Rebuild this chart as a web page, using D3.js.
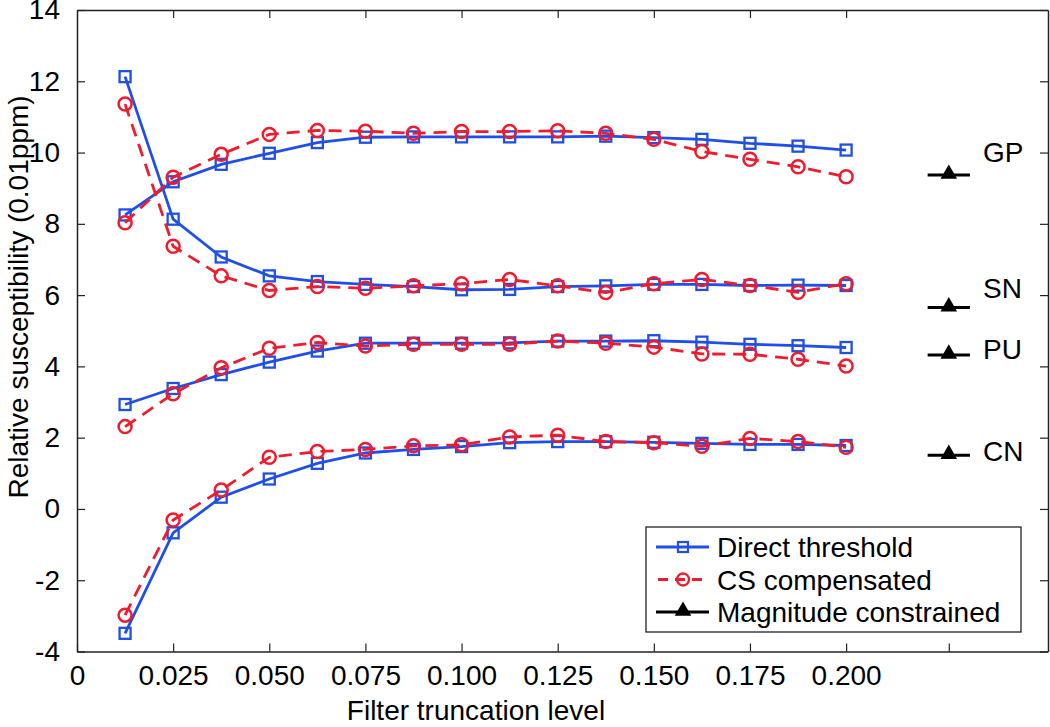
<!DOCTYPE html>
<html lang="en">
<head>
<meta charset="utf-8">
<title>Relative susceptibility vs filter truncation</title>
<script src="https://d3js.org/d3.v7.min.js"></script>
<style>
  body { margin: 0; background: #fff; }
  text { font-family: "Liberation Sans", Arial, Helvetica, sans-serif; fill: #000; }
</style>
</head>
<body>
<script>
// filter truncation levels (x)
var levels = [0.0125, 0.025, 0.0375, 0.05, 0.0625, 0.075, 0.0875, 0.1, 0.1125, 0.125, 0.1375, 0.15, 0.1625, 0.175, 0.1875, 0.2];

// direct threshold (blue squares)
var gpDirect = [8.25, 9.18, 9.67, 9.98, 10.28, 10.43, 10.44, 10.44, 10.44, 10.44, 10.46, 10.42, 10.37, 10.26, 10.18, 10.07];
var snDirect = [12.13, 8.13, 7.07, 6.54, 6.38, 6.3, 6.24, 6.15, 6.16, 6.24, 6.26, 6.3, 6.3, 6.27, 6.28, 6.27];
var puDirect = [2.93, 3.38, 3.77, 4.12, 4.43, 4.65, 4.65, 4.65, 4.66, 4.71, 4.71, 4.72, 4.68, 4.62, 4.58, 4.53];
var cnDirect = [-3.49, -0.67, 0.33, 0.84, 1.28, 1.57, 1.67, 1.75, 1.86, 1.89, 1.89, 1.87, 1.84, 1.81, 1.81, 1.78];

// CS compensated (red circles, dashed)
var gpCS = [8.03, 9.31, 9.95, 10.51, 10.62, 10.6, 10.54, 10.59, 10.59, 10.61, 10.54, 10.37, 10.03, 9.81, 9.6, 9.32];
var snCS = [11.36, 7.37, 6.54, 6.13, 6.24, 6.19, 6.26, 6.32, 6.44, 6.26, 6.07, 6.32, 6.44, 6.27, 6.08, 6.32];
var puCS = [2.31, 3.23, 3.96, 4.51, 4.67, 4.57, 4.62, 4.62, 4.62, 4.71, 4.65, 4.54, 4.35, 4.34, 4.2, 4.01];
var cnCS = [-2.98, -0.31, 0.53, 1.45, 1.61, 1.67, 1.77, 1.8, 2.02, 2.07, 1.89, 1.86, 1.76, 1.98, 1.89, 1.73];

// magnitude constrained (one value per region, shown at the extra tick)
var regions = ["GP", "SN", "PU", "CN"];
var magValues = [9.37, 5.65, 4.32, 1.51];
var magLevel = 0.2267;
var magHalfSpan = 0.0055;

var xTicks = [0, 0.025, 0.05, 0.075, 0.1, 0.125, 0.15, 0.175, 0.2, 0.2267];
var xTickLabels = ["0", "0.025", "0.050", "0.075", "0.100", "0.125", "0.150", "0.175", "0.200", ""];
var yTicks = [-4, -2, 0, 2, 4, 6, 8, 10, 12, 14];

var legendNames = ["Direct threshold", "CS compensated", "Magnitude constrained"];

var width = 1050, height = 727;
var plotLeft = 77, plotRight = 1048, plotTop = 10, plotBottom = 651.5;
var blue = "#1f4fe8", red = "#ee1c2e";

var x = d3.scaleLinear().domain([0, 0.2525]).range([plotLeft, plotRight]);
var y = d3.scaleLinear().domain([-4, 14]).range([plotBottom, plotTop]);

var svg = d3.select("body").append("svg")
    .attr("width", width)
    .attr("height", height);

svg.append("rect").attr("width", width).attr("height", height).attr("fill", "#fff");

// axes, ticks pointing inward on all four sides
function styleAxis(g) {
  g.select(".domain").attr("stroke", "#222").attr("stroke-width", 1.5);
  g.selectAll(".tick line").attr("stroke", "#222").attr("stroke-width", 1.2);
  g.selectAll(".tick text").attr("font-size", 28).attr("fill", "#000")
    .attr("font-family", '"Liberation Sans", Arial, sans-serif');
}

svg.append("g")
    .attr("transform", "translate(0," + plotBottom + ")")
    .call(d3.axisBottom(x).tickValues(xTicks).tickSizeInner(-8).tickSizeOuter(0).tickPadding(14)
      .tickFormat(function(d, i) { return xTickLabels[i]; }))
    .call(styleAxis);

svg.append("g")
    .attr("transform", "translate(0," + plotTop + ")")
    .call(d3.axisTop(x).tickValues(xTicks.slice(1, 9)).tickSizeInner(-8).tickSizeOuter(0).tickFormat(""))
    .call(styleAxis);

svg.append("g")
    .attr("transform", "translate(" + plotLeft + ",0)")
    .call(d3.axisLeft(y).tickValues(yTicks).tickSizeInner(-8).tickSizeOuter(0).tickPadding(17)
      .tickFormat(function(d) { return String(d); }))
    .call(styleAxis);

svg.append("g")
    .attr("transform", "translate(" + plotRight + ",0)")
    .call(d3.axisRight(y).tickValues(yTicks).tickSizeInner(-8).tickSizeOuter(0).tickFormat(""))
    .call(styleAxis);

// axis titles
svg.append("text")
    .attr("x", 476).attr("y", 720)
    .attr("text-anchor", "middle")
    .attr("font-size", 28)
    .text("Filter truncation level");

svg.append("text")
    .attr("transform", "translate(28,297) rotate(-90)")
    .attr("text-anchor", "middle")
    .attr("font-size", 28)
    .text("Relative susceptibility (0.01ppm)");

var line = d3.line()
    .x(function(d, i) { return x(levels[i]); })
    .y(function(d) { return y(d); });

function drawDirect(values) {
  svg.append("path").datum(values)
      .attr("d", line)
      .attr("fill", "none")
      .attr("stroke", blue)
      .attr("stroke-width", 2.8);
  svg.append("g").selectAll("rect").data(values).enter().append("rect")
      .attr("x", function(d, i) { return x(levels[i]) - 5.5; })
      .attr("y", function(d) { return y(d) - 5.5; })
      .attr("width", 11).attr("height", 11)
      .attr("fill", "none")
      .attr("stroke", blue)
      .attr("stroke-width", 2.3);
}

function drawCS(values) {
  svg.append("path").datum(values)
      .attr("d", line)
      .attr("fill", "none")
      .attr("stroke", red)
      .attr("stroke-width", 2.8)
      .attr("stroke-dasharray", "13,8");
  svg.append("g").selectAll("circle").data(values).enter().append("circle")
      .attr("cx", function(d, i) { return x(levels[i]); })
      .attr("cy", function(d) { return y(d); })
      .attr("r", 6.5)
      .attr("fill", "none")
      .attr("stroke", red)
      .attr("stroke-width", 2.5);
}

[gpDirect, snDirect, puDirect, cnDirect].forEach(drawDirect);
[gpCS, snCS, puCS, cnCS].forEach(drawCS);

// magnitude constrained markers
var tri = d3.symbol().type(d3.symbolTriangle).size(120);
var labelDy = [-23, -20, -6, -4];

regions.forEach(function(name, i) {
  var cy = y(magValues[i]);
  svg.append("line")
      .attr("x1", x(magLevel - magHalfSpan)).attr("x2", x(magLevel + magHalfSpan))
      .attr("y1", cy).attr("y2", cy)
      .attr("stroke", "#000").attr("stroke-width", 3);
  svg.append("path")
      .attr("d", tri)
      .attr("transform", "translate(" + x(magLevel) + "," + (cy - 1) + ")")
      .attr("fill", "#000");
  svg.append("text")
      .attr("x", 983).attr("y", cy + labelDy[i])
      .attr("dy", "0.36em")
      .attr("font-size", 28)
      .text(name);
});

// legend
var legend = svg.append("g").attr("transform", "translate(646,527)");
legend.append("rect")
    .attr("width", 375).attr("height", 105)
    .attr("fill", "#fff")
    .attr("stroke", "#222")
    .attr("stroke-width", 1.3);

legendNames.forEach(function(name, i) {
  var ly = 20 + i * 32.5;
  var g = legend.append("g").attr("transform", "translate(0," + ly + ")");
  var ln = g.append("line")
      .attr("x1", 10).attr("x2", 63).attr("y1", 0).attr("y2", 0)
      .attr("stroke-width", 2.8);
  if (i === 0) {
    ln.attr("stroke", blue);
    g.append("rect").attr("x", 32).attr("y", -5).attr("width", 10).attr("height", 10)
        .attr("fill", "none").attr("stroke", blue).attr("stroke-width", 2.2);
  } else if (i === 1) {
    ln.attr("stroke", red).attr("stroke-dasharray", "10,7").attr("x1", 12);
    g.append("circle").attr("cx", 37).attr("cy", 0).attr("r", 6)
        .attr("fill", "none").attr("stroke", red).attr("stroke-width", 2.4);
  } else {
    ln.attr("stroke", "#000");
    g.append("path").attr("d", tri).attr("transform", "translate(37,-1)").attr("fill", "#000");
  }
  g.append("text")
      .attr("x", 71).attr("y", 0)
      .attr("dy", "0.36em")
      .attr("font-size", 28)
      .text(name);
});
</script>
</body>
</html>
